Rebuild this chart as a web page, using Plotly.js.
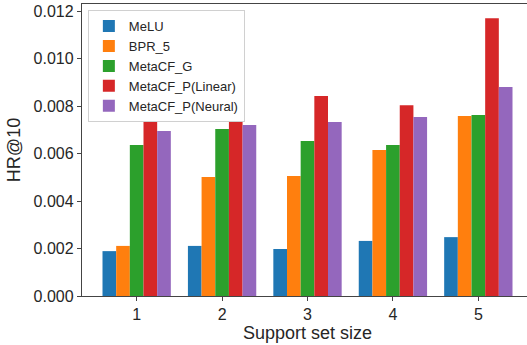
<!DOCTYPE html>
<html>
<head>
<meta charset="utf-8">
<script src="https://cdn.plot.ly/plotly-3.0.1.min.js"></script>
<style>
html, body { margin: 0; padding: 0; overflow: hidden; background: #fff; }
#chart { width: 540px; height: 345px; }
</style>
</head>
<body>
<div id="chart"></div>
<script>
const supportSizes = [1, 2, 3, 4, 5];
const seriesNames = ["MeLU", "BPR_5", "MetaCF_G", "MetaCF_P(Linear)", "MetaCF_P(Neural)"];
const melu = [0.00189, 0.00211, 0.00198, 0.00232, 0.00248];
const bpr5 = [0.00211, 0.00501, 0.00505, 0.00615, 0.00758];
const metacfG = [0.00636, 0.00703, 0.00653, 0.00636, 0.00762];
const metacfLinear = [0.0088, 0.0092, 0.00842, 0.00804, 0.0117];
const metacfNeural = [0.00695, 0.0072, 0.00733, 0.00754, 0.0088];
const colors = ["#1f77b4", "#ff7f0e", "#2ca02c", "#d62728", "#9467bd"];
const yTicks = [0, 0.002, 0.004, 0.006, 0.008, 0.010, 0.012];

const allSeries = [melu, bpr5, metacfG, metacfLinear, metacfNeural];
const traces = allSeries.map((vals, i) => ({
  type: "bar",
  x: supportSizes,
  y: vals,
  name: seriesNames[i],
  marker: { color: colors[i], line: { width: 0 } }
}));

const fontFam = "Liberation Sans, Arial, sans-serif";
const layout = {
  width: 540,
  height: 345,
  margin: { l: 82, r: 7, t: 4, b: 49 },
  barmode: "group",
  bargap: 0.2,
  bargroupgap: 0,
  paper_bgcolor: "#fff",
  plot_bgcolor: "#fff",
  font: { family: fontFam, color: "#262626", size: 16 },
  showlegend: true,
  legend: {
    x: 0.013, y: 0.979, xanchor: "left", yanchor: "top",
    bgcolor: "rgba(255,255,255,1)",
    bordercolor: "#d0d0d0", borderwidth: 1,
    font: { family: fontFam, size: 13, color: "#262626" },
    tracegroupgap: 0
  },
  xaxis: {
    range: [0.36, 5.64],
    tickvals: supportSizes,
    ticktext: supportSizes.map(String),
    ticks: "outside", ticklen: 4, tickwidth: 1, tickcolor: "#444",
    showline: true, linecolor: "#444", linewidth: 1.2, mirror: true,
    showgrid: false, zeroline: false,
    tickfont: { size: 16 },
    title: { text: "Support set size", font: { size: 18 }, standoff: 3 }
  },
  yaxis: {
    range: [0, 0.0123],
    tickvals: yTicks,
    tickformat: ".3f",
    ticks: "outside", ticklen: 4, tickwidth: 1, tickcolor: "#444",
    showline: true, linecolor: "#444", linewidth: 1.2, mirror: true,
    showgrid: false, zeroline: false,
    tickfont: { size: 16 },
    title: { text: "HR@10", font: { size: 18 }, standoff: 8 }
  }
};

Plotly.newPlot("chart", traces, layout, { displayModeBar: false, staticPlot: true });
</script>
</body>
</html>
